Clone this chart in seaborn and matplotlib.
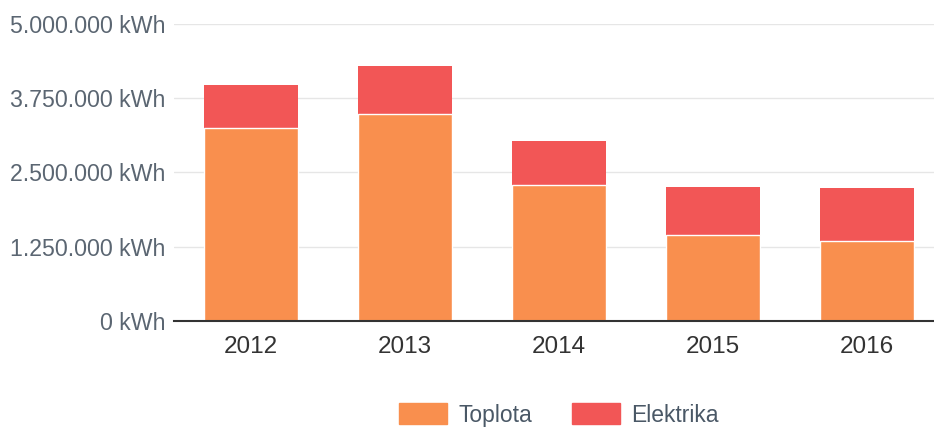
import matplotlib.pyplot as plt
import matplotlib.ticker as mticker
from matplotlib.patches import Patch
import seaborn as sns
import pandas as pd

years = ['2012', '2013', '2014', '2015', '2016']
toplota = [3240000, 3480000, 2290000, 1440000, 1350000]
elektrika = [730000, 810000, 740000, 820000, 880000]

colors = {
    'Toplota': '#f98f4e',
    'Elektrika': '#f25656'
}

df = pd.DataFrame({'Year': years, 'Toplota': toplota, 'Elektrika': elektrika})
df['Total'] = df['Toplota'] + df['Elektrika']

sns.set_style('white')
plt.rcParams['font.family'] = ['Liberation Sans', 'DejaVu Sans']

fig = plt.figure(figsize=(9.34, 4.32), dpi=100)
ax = fig.add_axes([173.5 / 934, 111.3 / 432, 770.5 / 934, 296.7 / 432])

# stacked: draw totals first, heat part over it
sns.barplot(data=df, x='Year', y='Total', color=colors['Elektrika'], width=0.61,
            saturation=1, ax=ax, linewidth=0)
sns.barplot(data=df, x='Year', y='Toplota', color=colors['Toplota'], width=0.61,
            saturation=1, ax=ax, edgecolor='white', linewidth=1)

ax.set_xlim(-0.5, 4.5)
ax.set_ylim(0, 5000000)
ax.set_yticks([0, 1250000, 2500000, 3750000, 5000000])
ax.yaxis.set_major_formatter(mticker.FuncFormatter(
    lambda v, p: f"{v:,.0f}".replace(',', '.') + ' kWh'))
ax.grid(axis='y', color='#e6e6e6', linewidth=1)
ax.set_axisbelow(True)
for s in ['top', 'right', 'left']:
    ax.spines[s].set_visible(False)
ax.spines['bottom'].set_color('#333333')
ax.spines['bottom'].set_linewidth(1.5)
ax.tick_params(axis='y', length=0, pad=6, labelsize=16.7, labelcolor='#5b6672')
ax.tick_params(axis='x', length=0, pad=11, labelsize=17.5, labelcolor='#333333')
ax.set_xlabel('')
ax.set_ylabel('')

handles = [Patch(color=colors['Toplota'], label='Toplota'),
           Patch(color=colors['Elektrika'], label='Elektrika')]
fig.legend(handles=handles, loc='upper center', bbox_to_anchor=(559 / 934, 40 / 432),
           ncol=2, frameon=False, fontsize=16.5, handlelength=2.1, handleheight=1.0,
           handletextpad=0.5, columnspacing=1.7, borderpad=0.0, labelcolor='#4a5866')

fig.savefig('out.png', dpi=100)
